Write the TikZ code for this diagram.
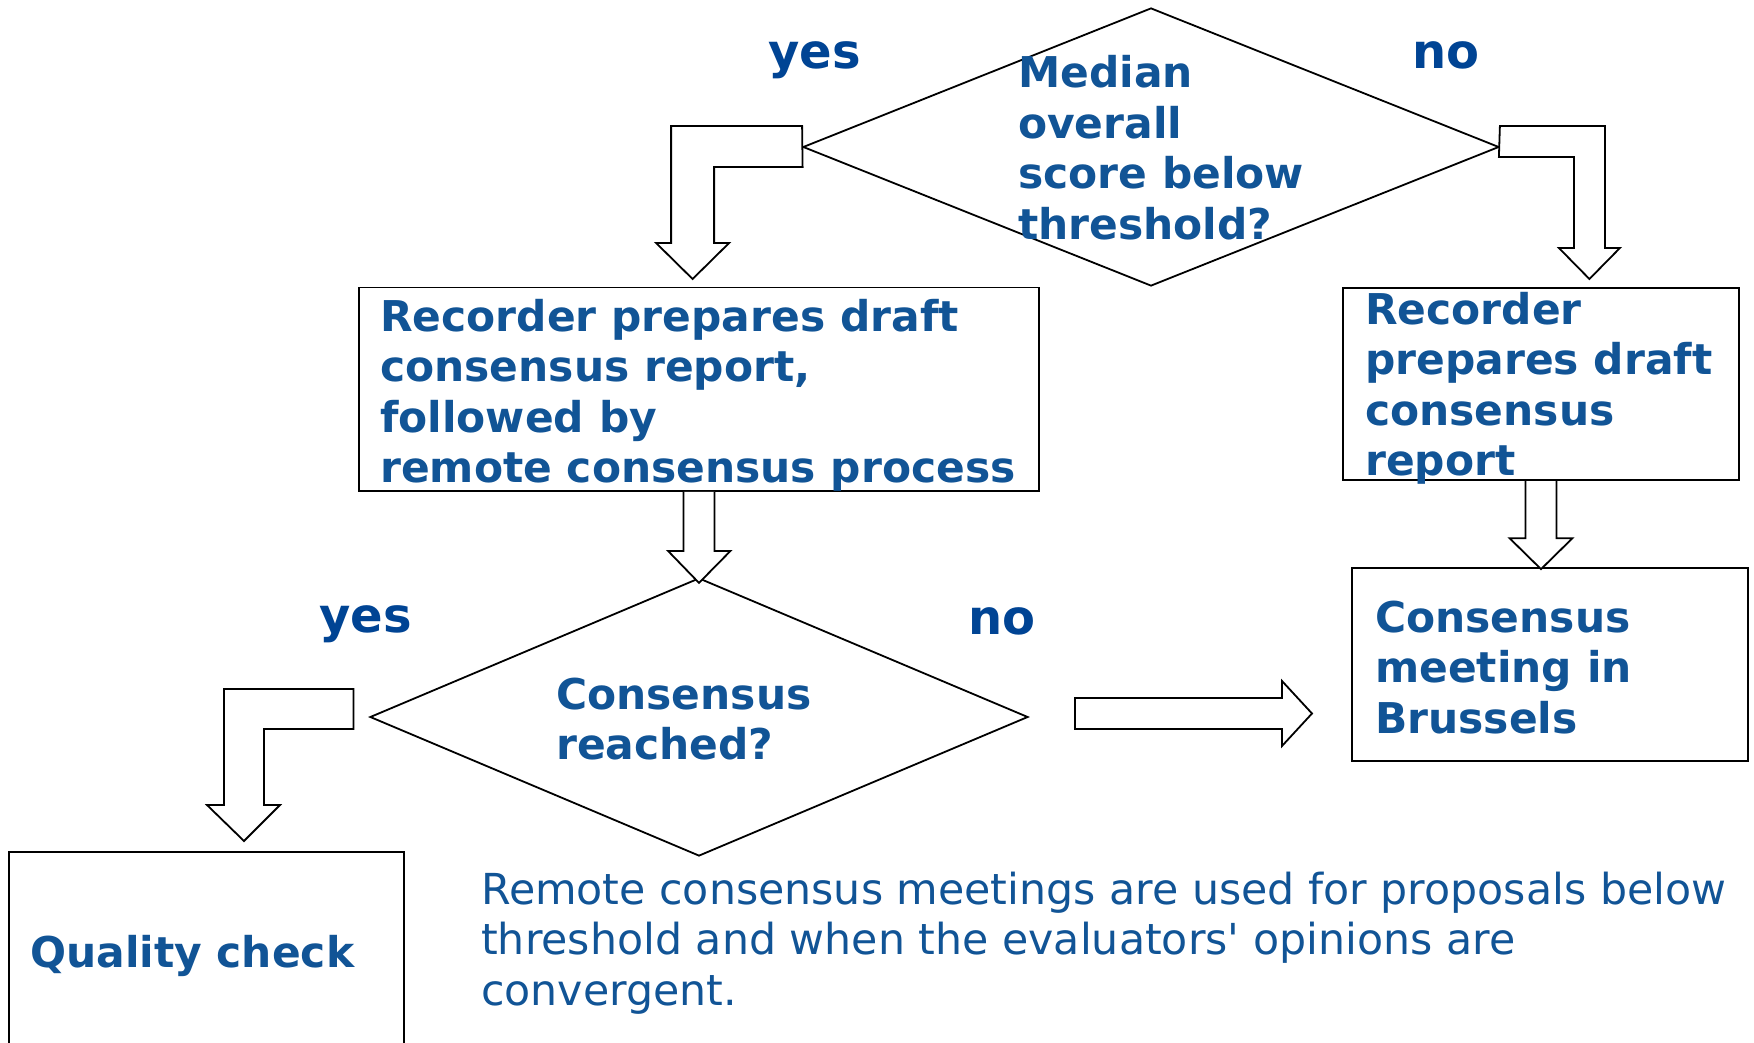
\documentclass[tikz,border=0pt]{standalone}
\usepackage{fontspec}
\setmainfont{DejaVu Sans}[Ligatures=TeXOff]
\usetikzlibrary{shapes.geometric,calc}
\definecolor{txtblue}{RGB}{17,84,150}
\definecolor{lblblue}{RGB}{0,68,148}
\begin{document}
\begin{tikzpicture}[x=1pt,y=-1pt,line join=miter,
  outline/.style={draw=black,line width=1.8pt},
  dia/.style={outline,shape=diamond,inner sep=0pt},
  boxnode/.style={outline,shape=rectangle,inner sep=0pt},
  blockarrow/.style={draw=black,line width=1.8pt,fill=white},
  boxtext/.style={font=\fontsize{42.4}{50.5}\selectfont\bfseries,text=txtblue,align=left,inner sep=0pt,anchor=base west},
  lbl/.style={font=\fontsize{48}{50}\selectfont\bfseries,text=lblblue,inner sep=0pt,anchor=base west},
  note/.style={font=\fontsize{42.7}{50.3}\selectfont,text=txtblue,align=left,inner sep=0pt,anchor=base west}]
\useasboundingbox[fill=white] (0,0) rectangle (1754,1043);
\clip (0,0) rectangle (1754,1043);
% shapes
\node[dia,minimum width=696pt,minimum height=278pt] (d1) at (1151,147) {};
\node[dia,minimum width=658pt,minimum height=278pt] (d2) at (699,717) {};
\node[boxnode,minimum width=680pt,minimum height=203.5pt] (b1) at (699,389.25) {};
\node[boxnode,minimum width=396pt,minimum height=192.5pt] (b2) at (1541,384) {};
\node[boxnode,minimum width=396pt,minimum height=193pt] (b3) at (1550,664.5) {};
\coordinate (qtl) at (9,852);
\coordinate (qtr) at (404,852);
\draw[outline] ($(qtl)+(0,250)$) -- (qtl) -- (qtr) -- ($(qtr)+(0,250)$);
% block arrows
\draw[blockarrow] (d1.west) ++(0,-21) -- ++(-131,0) -- ++(0,117) -- ++(-15,0)
  -- ++(36.5,36) -- ++(36.5,-36) -- ++(-15,0) -- ++(0,-76) -- ++(88.5,0) -- cycle;
\draw[blockarrow] (d1.east) ++(0,-21) -- ++(105,0) -- ++(0,122) -- ++(15,0)
  -- ++(-30.5,31) -- ++(-30.5,-31) -- ++(15,0) -- ++(0,-91) -- ++(-75,0) -- cycle;
\draw[blockarrow] (b1.south) ++(-15.5,0) -- ++(0,59) -- ++(-15.5,0) -- ++(31,32)
  -- ++(31.5,-32) -- ++(-16,0) -- ++(0,-59);
\draw[blockarrow] (b2.south) ++(-15.5,0) -- ++(0,57) -- ++(-16,0) -- ++(31.5,31)
  -- ++(31.5,-31) -- ++(-16,0) -- ++(0,-57);
\coordinate (nostart) at (1075,698);
\draw[blockarrow] (nostart) -- ++(207,0) -- ++(0,-17) -- ++(30,32.5) -- ++(-30,32.5)
  -- ++(0,-17) -- ++(-207,0) -- cycle;
\coordinate (yesstart) at (353.5,689);
\draw[blockarrow] (yesstart) -- ++(-129.5,0) -- ++(0,116) -- ++(-17,0) -- ++(37,36)
  -- ++(36,-36) -- ++(-16,0) -- ++(0,-76) -- ++(89.5,0) -- cycle;
% texts (anchor = baseline of last line)
\node[boxtext] (t1) at (1018,239.5) {Median\\overall\\score below\\threshold?};
\node[boxtext] (t2) at (380,482.5) {Recorder prepares draft\\consensus report,\\followed by\\remote consensus process};
\node[boxtext] (t3) at (1365,475.5) {Recorder\\prepares draft\\consensus\\report};
\node[boxtext] (t4) at (1375,733) {Consensus\\meeting in\\Brussels};
\node[boxtext] (t5) at (556,759.5) {Consensus\\reached?};
\node[boxtext] (t6) at (30,967) {Quality check};
\node[note] (t7) at (481,1005) {Remote consensus meetings are used for proposals below\\threshold and when the evaluators' opinions are\\convergent.};
\node[lbl] (y1) at (768,69) {yes};
\node[lbl] (n1) at (1412,69) {no};
\node[lbl] (y2) at (319,632) {yes};
\node[lbl] (n2) at (968,634) {no};
\end{tikzpicture}
\end{document}
